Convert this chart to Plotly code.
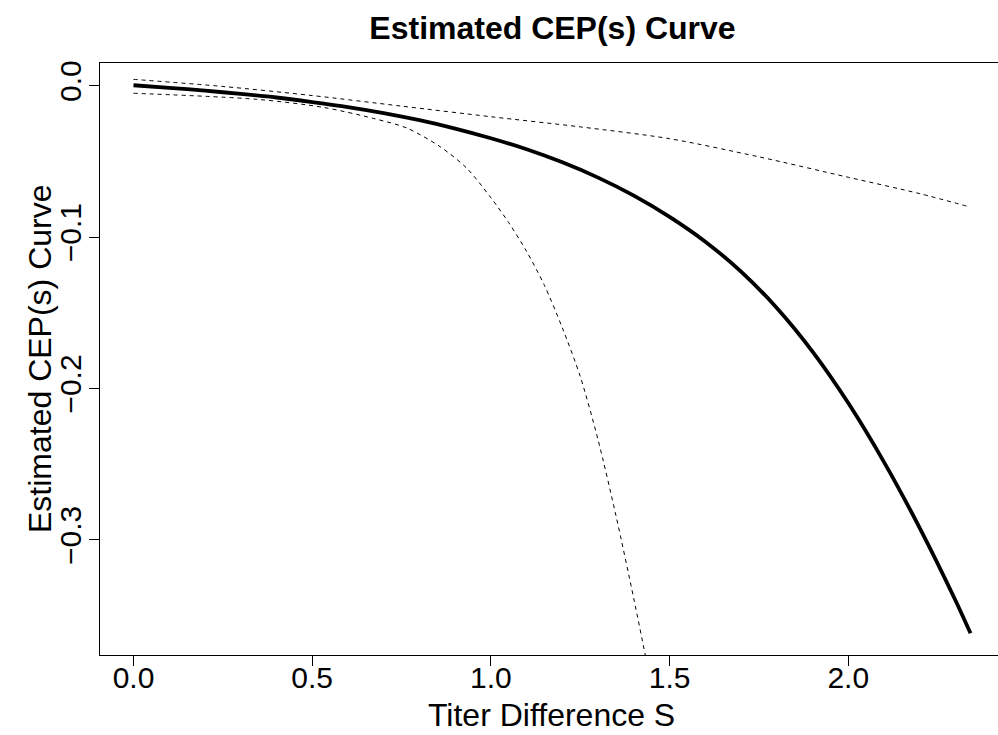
import plotly.graph_objects as go

# Estimated CEP(s) curve (solid)
est_x = [0.0, 0.1, 0.2, 0.3, 0.4, 0.5, 0.6, 0.7, 0.8, 0.9, 1.0, 1.1, 1.2, 1.3, 1.4, 1.5, 1.6, 1.7,
         1.8, 1.9, 2.0, 2.1, 2.2, 2.3, 2.342]
est_y = [0.0003, -0.0014, -0.0033, -0.0054, -0.0078, -0.0108, -0.0141, -0.0181, -0.0228, -0.0283,
         -0.0347, -0.0420, -0.0506, -0.0607, -0.0726, -0.0866, -0.1030, -0.1228, -0.1468, -0.1756,
         -0.2096, -0.2486, -0.2922, -0.3400, -0.3617]

# Upper confidence band (dashed)
upper_x = [0.0, 0.25, 0.5, 0.75, 1.0, 1.25, 1.5, 1.75, 2.0, 2.2, 2.337]
upper_y = [0.0042, -0.0005, -0.0065, -0.0135, -0.0205, -0.0272, -0.0350, -0.0470, -0.0605, -0.0713, -0.0799]

# Lower confidence band (dashed)
lower_x = [0.0, 0.345, 0.531, 0.671, 0.765, 0.858, 0.933, 1.0, 1.05, 1.1, 1.15, 1.2, 1.25, 1.3, 1.35, 1.4, 1.432, 1.45]
lower_y = [-0.0050, -0.0090, -0.0143, -0.0216, -0.0280, -0.0403, -0.0546, -0.0740, -0.0905, -0.1095,
           -0.1320, -0.1600, -0.1920, -0.2340, -0.2840, -0.3390, -0.3760, -0.3970]

x_tickvals = [0.0, 0.5, 1.0, 1.5, 2.0]
x_ticktext = ["0.0", "0.5", "1.0", "1.5", "2.0"]
y_tickvals = [0.0, -0.1, -0.2, -0.3]
y_ticktext = ["0.0", "\u22120.1", "\u22120.2", "\u22120.3"]

title_text = "Estimated CEP(s) Curve"
x_title = "Titer Difference S"
y_title = "Estimated CEP(s) Curve"

FONT = "Liberation Sans, Arial, Helvetica, sans-serif"

fig = go.Figure()
fig.add_trace(go.Scatter(x=upper_x, y=upper_y, mode="lines",
                         line=dict(color="black", width=1, dash="4px,4px", shape="spline", smoothing=0.8),
                         showlegend=False, hoverinfo="skip"))
fig.add_trace(go.Scatter(x=lower_x, y=lower_y, mode="lines",
                         line=dict(color="black", width=1, dash="4px,4px", shape="spline", smoothing=0.8),
                         showlegend=False, hoverinfo="skip"))
fig.add_trace(go.Scatter(x=est_x, y=est_y, mode="lines",
                         line=dict(color="black", width=3.8, shape="spline", smoothing=0.8),
                         showlegend=False))

fig.update_layout(
    width=998, height=735,
    margin=dict(l=100, r=0, t=63, b=80, pad=0),
    paper_bgcolor="white", plot_bgcolor="white",
    font=dict(family=FONT, color="black"),
    title=dict(text="<b>" + title_text + "</b>", font=dict(size=32, family=FONT, color="black"),
               x=0.5039, xref="paper", xanchor="center", y=1 - 28 / 735, yref="container", yanchor="middle"),
    xaxis=dict(range=[-0.0937, 2.4189], tickvals=x_tickvals, ticktext=x_ticktext, automargin=False,
               showgrid=False, zeroline=False, showline=True, mirror=True, linecolor="black", linewidth=1,
               ticks="outside", ticklen=10, tickcolor="black", tickwidth=1, ticklabelstandoff=-14,
               tickfont=dict(size=30)),
    yaxis=dict(range=[-0.37602, 0.01499], tickvals=y_tickvals, ticktext=y_ticktext, automargin=False,
               showgrid=False, zeroline=False, showline=True, mirror=False, linecolor="black", linewidth=1,
               ticks="outside", ticklen=10, tickcolor="black", tickwidth=1, tickangle=-90, ticklabelstandoff=-4,
               tickfont=dict(size=30)),
    annotations=[
        dict(text=x_title, xref="paper", yref="paper", x=0.5028, y=-0.1014, xanchor="center", yanchor="middle",
             showarrow=False, font=dict(size=32, family=FONT, color="black")),
        dict(text=y_title, xref="paper", yref="paper", x=-0.0668, y=0.5, xanchor="center", yanchor="middle",
             textangle=-90, showarrow=False, font=dict(size=32, family=FONT, color="black")),
    ],
)

fig.write_html("out.html", config={"displayModeBar": False},
               post_script="document.body.style.margin='0';document.body.style.padding='0';"
                           "document.body.style.overflow='hidden';")
